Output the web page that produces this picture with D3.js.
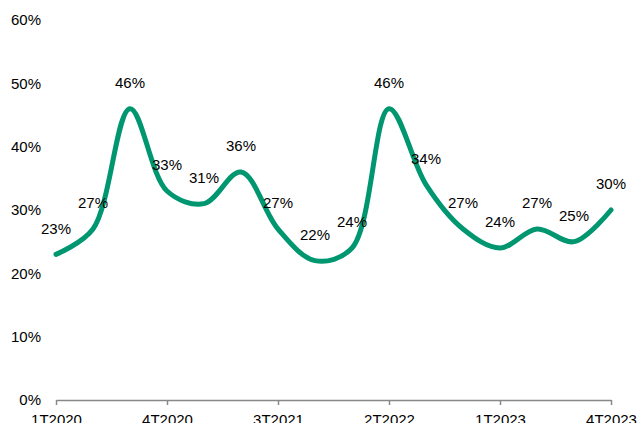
<!DOCTYPE html>
<html>
<head>
<meta charset="utf-8">
<script src="https://cdn.jsdelivr.net/npm/d3@7"></script>
<style>
  body { margin: 0; background: #fff; }
  text { font-family: "Liberation Sans", Arial, sans-serif; }
</style>
</head>
<body>
<svg width="640" height="423"></svg>
<script>
// quarters and share values (%)
var quarters = ["1T2020", "2T2020", "3T2020", "4T2020", "1T2021", "2T2021", "3T2021", "4T2021",
                "1T2022", "2T2022", "3T2022", "4T2022", "1T2023", "2T2023", "3T2023", "4T2023"];
var values = [23, 27, 46, 33, 31, 36, 27, 22, 24, 46, 34, 27, 24, 27, 25, 30];
var yTicks = [0, 10, 20, 30, 40, 50, 60];
var xTickLabels = ["1T2020", "4T2020", "3T2021", "2T2022", "1T2023", "4T2023"];

var svg = d3.select("svg"),
    margin = {top: 20, right: 29, bottom: 23, left: 56},
    width = +svg.attr("width") - margin.left - margin.right,
    height = +svg.attr("height") - margin.top - margin.bottom,
    g = svg.append("g").attr("transform", "translate(" + margin.left + "," + margin.top + ")");

var x = d3.scalePoint()
    .domain(quarters)
    .range([0, width]);

var y = d3.scaleLinear()
    .domain([0, 60])
    .range([height, 0]);

// y axis labels only, no line
var yAxis = g.append("g")
    .call(d3.axisLeft(y).tickValues(yTicks).tickSize(0).tickPadding(15)
        .tickFormat(function(d) { return d + "%"; }));
yAxis.select(".domain").remove();
yAxis.selectAll("text").attr("font-size", 15).attr("fill", "#000")
    .style("font-family", "Liberation Sans, Arial, sans-serif");

// x axis
var xAxis = g.append("g")
    .attr("transform", "translate(0," + height + ")")
    .call(d3.axisBottom(x).tickValues(xTickLabels).tickSizeInner(5).tickSizeOuter(0).tickPadding(9));
xAxis.select(".domain").attr("stroke", "#888").attr("stroke-width", 1.5);
xAxis.selectAll("line").attr("stroke", "#888").attr("stroke-width", 1.5);
xAxis.selectAll("text").attr("font-size", 15).attr("fill", "#000")
    .style("font-family", "Liberation Sans, Arial, sans-serif");

var line = d3.line()
    .x(function(d, i) { return x(quarters[i]); })
    .y(function(d) { return y(d); })
    .curve(d3.curveCatmullRom.alpha(0.5));

g.append("path")
    .datum(values)
    .attr("fill", "none")
    .attr("stroke", "#009670")
    .attr("stroke-width", 5)
    .attr("stroke-linecap", "round")
    .attr("d", line);

g.selectAll(".lbl")
  .data(values)
  .enter().append("text")
    .attr("class", "lbl")
    .attr("x", function(d, i) { return x(quarters[i]); })
    .attr("y", function(d) { return y(d) - 26; })
    .attr("dy", "0.35em")
    .attr("text-anchor", "middle")
    .attr("font-size", 15)
    .attr("fill", "#000")
    .text(function(d) { return d + "%"; });
</script>
</body>
</html>
